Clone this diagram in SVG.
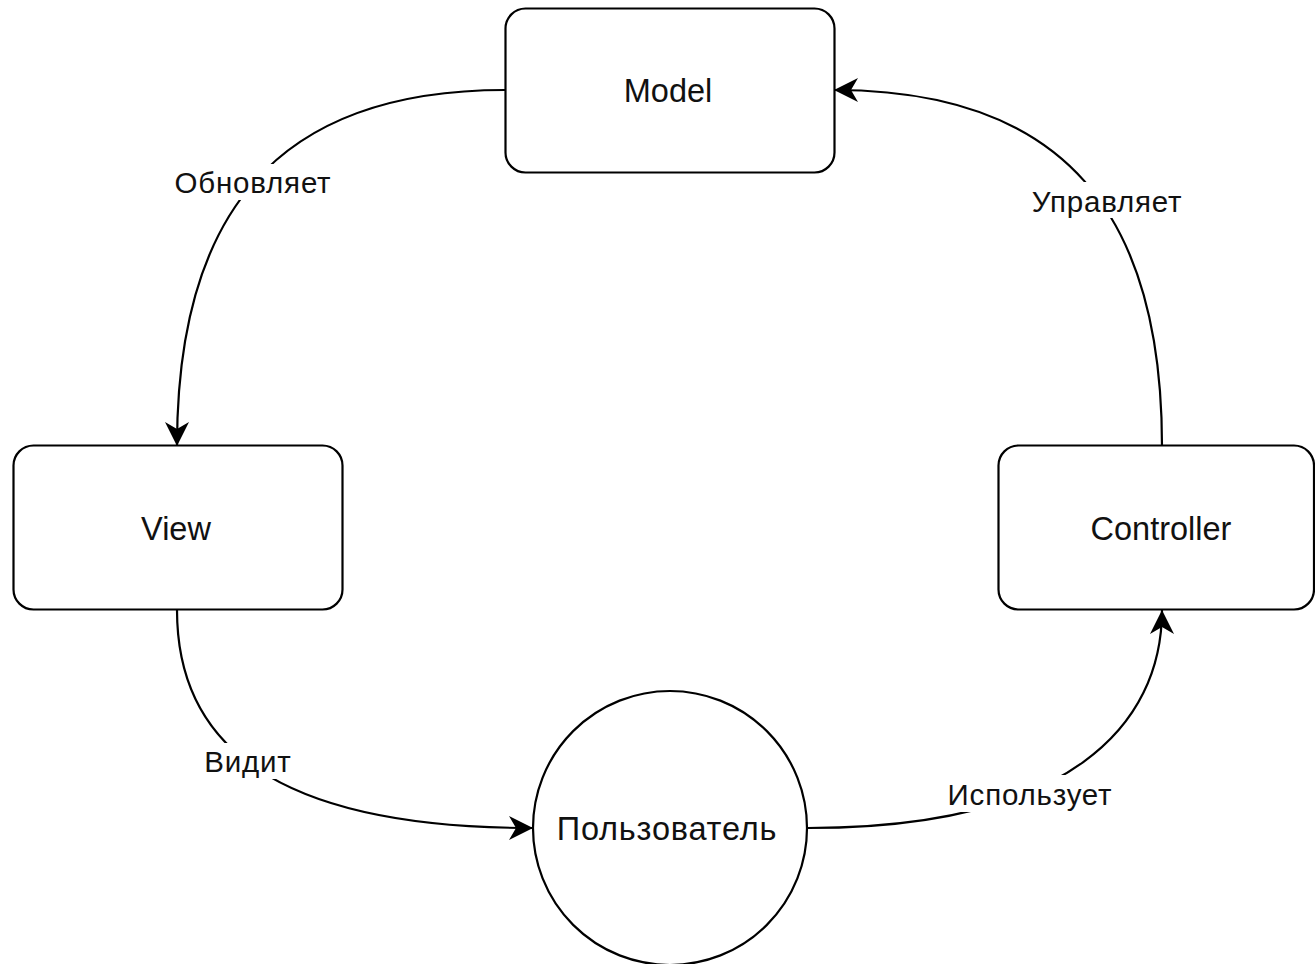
<svg xmlns="http://www.w3.org/2000/svg" width="1315" height="964" viewBox="0 0 1315 964">
  <style>
    .node { fill: #ffffff; stroke: #000000; stroke-width: 2.2; }
    .edge { fill: none; stroke: #000000; stroke-width: 2.2; }
    .ntext { font-family: "Liberation Sans", Arial, sans-serif; font-size: 32.5px; fill: #111111; text-anchor: middle; }
    .ltext { font-family: "Liberation Sans", Arial, sans-serif; font-size: 29.5px; fill: #111111; text-anchor: middle; letter-spacing: 0.8px; }
    .lbg { fill: #ffffff; stroke: none; }
  </style>
  <defs>
    <marker id="arrow" markerUnits="userSpaceOnUse" viewBox="-26 -14 28 28" markerWidth="28" markerHeight="28" refX="0" refY="0" orient="auto">
      <path d="M0,0 L-24,-12 L-17,0 L-24,12 Z" fill="#000000"/>
    </marker>
  </defs>
  <rect width="1315" height="964" fill="#ffffff"/>

  <g id="connectors">
    <path class="edge" d="M505,90 C275,90 177,215 177,446" marker-end="url(#arrow)"/>
    <path class="edge" d="M177,610 C177,745 275,828 533,828" marker-end="url(#arrow)"/>
    <path class="edge" d="M808,828 C1070,828 1162,725 1162,610" marker-end="url(#arrow)"/>
    <path class="edge" d="M1162,446 C1162,215 1065,90 834,90" marker-end="url(#arrow)"/>
    <g id="label-obnovlyaet">
      <rect class="lbg" x="175" y="164" width="155" height="36"/>
      <text class="ltext" x="253" y="193">Обновляет</text>
    </g>
    <g id="label-upravlyaet">
      <rect class="lbg" x="1029" y="182" width="155" height="36"/>
      <text class="ltext" x="1107" y="212">Управляет</text>
    </g>
    <g id="label-vidit">
      <rect class="lbg" x="204" y="743" width="87" height="36"/>
      <text class="ltext" x="248" y="772">Видит</text>
    </g>
    <g id="label-ispolzuet">
      <rect class="lbg" x="944" y="775" width="172" height="37"/>
      <text class="ltext" x="1030" y="805">Использует</text>
    </g>
  </g>

  <g id="node-model">
    <rect class="node" x="505.5" y="8.5" width="329" height="164" rx="20" ry="20"/>
    <text class="ntext" x="668" y="102">Model</text>
  </g>
  <g id="node-view">
    <rect class="node" x="13.5" y="445.5" width="329" height="164" rx="20" ry="20"/>
    <text class="ntext" x="176" y="540">View</text>
  </g>
  <g id="node-controller">
    <rect class="node" x="998.5" y="445.5" width="315.5" height="164" rx="20" ry="20"/>
    <text class="ntext" x="1161" y="540">Controller</text>
  </g>
  <g id="node-user">
    <circle class="node" cx="670" cy="828" r="137"/>
    <text class="ntext" x="667" y="840" style="letter-spacing:0.8px">Пользователь</text>
  </g>
</svg>
